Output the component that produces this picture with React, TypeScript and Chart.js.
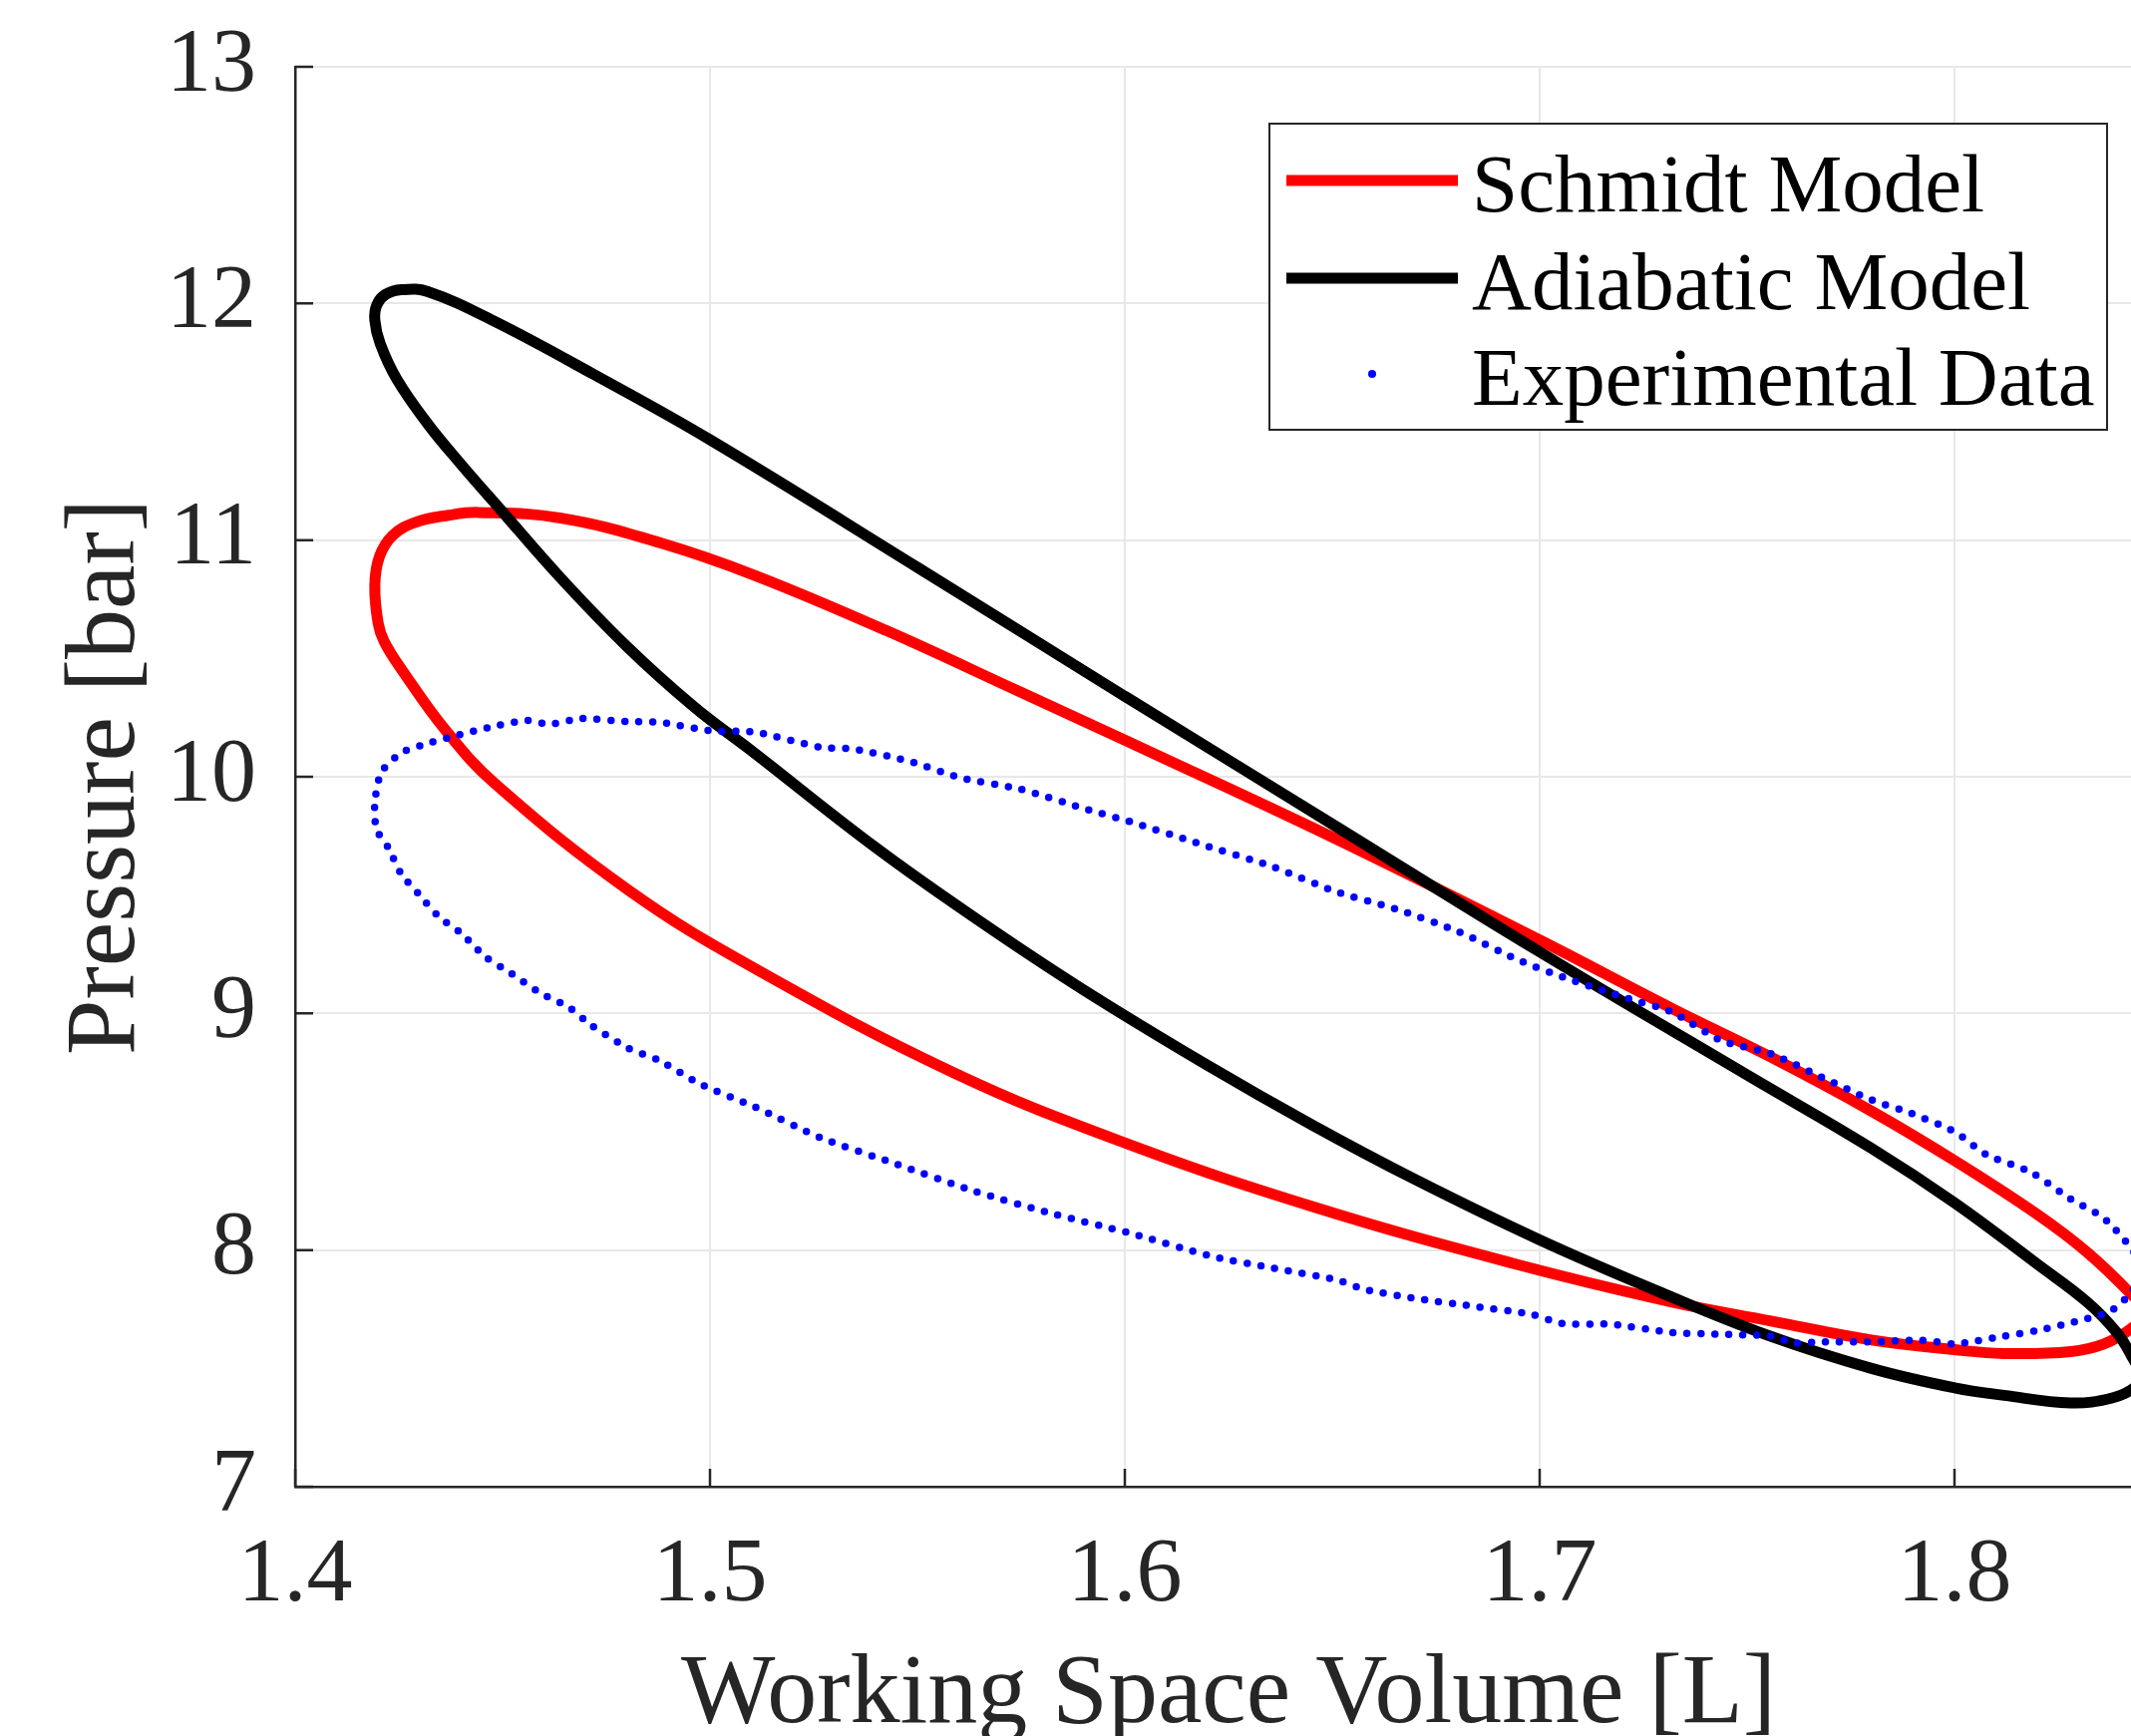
import React, { useEffect, useRef } from "react";
import { Chart, registerables } from "chart.js";

Chart.register(...registerables);

// ---- Data ----
const xTicks = [1.4, 1.5, 1.6, 1.7, 1.8];
const yTicks = [7, 8, 9, 10, 11, 12, 13];

const legendLabels = ["Schmidt Model", "Adiabatic Model", "Experimental Data"];

// Schmidt model loop: volume [L]
const schmidtV = [
  1.6, 1.65, 1.7, 1.732, 1.756, 1.78, 1.8, 1.82, 1.832, 1.8426, 1.846,
  1.8426, 1.836, 1.828, 1.812, 1.8, 1.78, 1.7558, 1.7317, 1.6933, 1.6452, 1.6003, 1.5587, 1.5108, 1.4801,
  1.4481, 1.4361, 1.4256, 1.4215, 1.42,
  1.4192, 1.4203, 1.4235, 1.429, 1.437, 1.4441, 1.4641, 1.4881, 1.5108, 1.5426, 1.5747, 1.6,
];
// Schmidt model loop: pressure [bar]
const schmidtP = [
  10.155, 9.745, 9.31, 9.02, 8.813, 8.587, 8.378, 8.15, 7.99, 7.813, 7.735,
  7.668, 7.603, 7.571, 7.563, 7.579, 7.62, 7.7, 7.781, 7.945, 8.184, 8.451, 8.75, 9.19, 9.524,
  9.972, 10.2, 10.455, 10.57, 10.649,
  10.81, 10.93, 11.02, 11.075, 11.105, 11.117, 11.093, 10.988, 10.851, 10.617, 10.359, 10.155,
];

// Adiabatic model loop
const adiabaticV = [
  1.6, 1.65, 1.7, 1.75, 1.78, 1.8, 1.82, 1.832, 1.8391, 1.8426, 1.8448,
  1.8435, 1.838, 1.828, 1.812, 1.8, 1.78, 1.755, 1.73, 1.7, 1.67, 1.645, 1.62, 1.59, 1.565, 1.54, 1.51,
  1.4962, 1.48, 1.464, 1.4497, 1.44, 1.432, 1.4245, 1.4205,
  1.4192, 1.4197, 1.4218, 1.4256, 1.432, 1.448, 1.472, 1.5, 1.55, 1.6,
];
const adiabaticP = [
  10.34, 9.8, 9.26, 8.74, 8.43, 8.2, 7.94, 7.78, 7.652, 7.555, 7.47,
  7.42, 7.375, 7.354, 7.386, 7.418, 7.5, 7.64, 7.815, 8.043, 8.298, 8.53, 8.78, 9.1, 9.39, 9.7, 10.11,
  10.295, 10.55, 10.84, 11.125, 11.32, 11.49, 11.68, 11.83,
  11.93, 11.995, 12.038, 12.058, 12.05, 11.925, 11.7, 11.424, 10.885, 10.34,
];

// Experimental data loop
const experimentV = [
  1.6011, 1.6171, 1.6356, 1.6508, 1.6652, 1.6805, 1.6949, 1.7085, 1.7213, 1.7317, 1.7437, 1.7558, 1.7678, 1.7798,
  1.7894, 1.8001, 1.8078, 1.8183, 1.8279, 1.8359, 1.8426, 1.8455,
  1.8426, 1.8375, 1.8279, 1.8199, 1.8118, 1.8038, 1.8001, 1.7918, 1.7798, 1.7678, 1.7614, 1.7558, 1.7437, 1.7317,
  1.7173, 1.7053, 1.6981, 1.6837, 1.6692, 1.658, 1.6508, 1.6356, 1.6212, 1.6011, 1.5827, 1.5635, 1.545, 1.5266,
  1.5108, 1.4977, 1.4881, 1.4801, 1.4713, 1.4661, 1.4589, 1.4521, 1.4457, 1.4401, 1.4345, 1.4296, 1.4256, 1.4224, 1.4196,
  1.4192, 1.4208, 1.4256, 1.4305, 1.4369, 1.4481, 1.4561, 1.4613, 1.4689, 1.4801, 1.4881, 1.5002, 1.5108, 1.5266,
  1.5346, 1.549, 1.5603, 1.5747, 1.5899, 1.6011,
];
const experimentP = [
  9.811, 9.722, 9.62, 9.515, 9.442, 9.345, 9.225, 9.136, 9.063, 9.007, 8.886, 8.829, 8.732, 8.636,
  8.579, 8.499, 8.402, 8.33, 8.217, 8.136, 8.007, 7.91,
  7.821, 7.741, 7.692, 7.66, 7.636, 7.612, 7.603, 7.619, 7.612, 7.612, 7.607, 7.636, 7.644, 7.652,
  7.686, 7.69, 7.728, 7.763, 7.798, 7.833, 7.875, 7.924, 7.973, 8.072, 8.153, 8.25, 8.363, 8.475,
  8.605, 8.701, 8.798, 8.855, 8.951, 9.024, 9.088, 9.169, 9.241, 9.338, 9.411, 9.508, 9.588, 9.701, 9.778,
  9.891, 10.02, 10.101, 10.133, 10.165, 10.214, 10.238, 10.222, 10.246, 10.233, 10.23, 10.194, 10.189, 10.125,
  10.117, 10.061, 9.996, 9.948, 9.867, 9.811,
];

const FONT = '"Liberation Serif", "Times New Roman", Times, serif';
const AXIS_COLOR = "#262626";
const GRID_COLOR = "#e8e8e8";

const toPoints = (v: number[], p: number[]) => v.map((x, i) => ({ x, y: p[i] }));

const innerTicksPlugin = {
  id: "innerTicks",
  beforeDatasetsDraw(chart: any) {
    const { ctx, chartArea: a, scales } = chart;
    ctx.save();
    ctx.strokeStyle = AXIS_COLOR;
    ctx.lineWidth = 2.5;
    ctx.beginPath();
    xTicks.forEach((v) => {
      const x = scales.x.getPixelForValue(v);
      ctx.moveTo(x, a.bottom);
      ctx.lineTo(x, a.bottom - 18);
    });
    yTicks.forEach((v) => {
      const y = scales.y.getPixelForValue(v);
      ctx.moveTo(a.left, y);
      ctx.lineTo(a.left + 18, y);
    });
    ctx.stroke();
    ctx.restore();
  },
};

const boxLegendPlugin = {
  id: "boxLegend",
  afterDraw(chart: any) {
    const ctx = chart.ctx;
    const left = 1273, top = 124, w = 840, h = 307;
    ctx.save();
    ctx.fillStyle = "#ffffff";
    ctx.fillRect(left, top, w, h);
    ctx.strokeStyle = AXIS_COLOR;
    ctx.lineWidth = 2;
    ctx.strokeRect(left, top, w, h);
    const rows = [181, 279, 375];
    ctx.lineCap = "butt";
    ctx.strokeStyle = "#ff0000";
    ctx.lineWidth = 11;
    ctx.beginPath();
    ctx.moveTo(1290, rows[0]);
    ctx.lineTo(1462, rows[0]);
    ctx.stroke();
    ctx.strokeStyle = "#000000";
    ctx.beginPath();
    ctx.moveTo(1290, rows[1]);
    ctx.lineTo(1462, rows[1]);
    ctx.stroke();
    ctx.fillStyle = "#0000ff";
    ctx.beginPath();
    ctx.arc(1376, rows[2], 4, 0, Math.PI * 2);
    ctx.fill();
    ctx.fillStyle = "#000000";
    ctx.font = `83px ${FONT}`;
    ctx.textAlign = "left";
    ctx.textBaseline = "middle";
    legendLabels.forEach((t, i) => ctx.fillText(t, 1476, rows[i] + 9));
    ctx.restore();
  },
};

export default function App() {
  const ref = useRef<HTMLCanvasElement>(null);
  useEffect(() => {
    document.body.style.margin = "0";
    document.body.style.overflow = "hidden";
    const chart = new Chart(ref.current as HTMLCanvasElement, {
      type: "scatter",
      data: {
        datasets: [
          {
            label: legendLabels[0],
            data: toPoints(schmidtV, schmidtP),
            showLine: true,
            borderColor: "#ff0000",
            backgroundColor: "#ff0000",
            borderWidth: 11,
            pointRadius: 0,
            tension: 0.4,
            borderJoinStyle: "round",
            borderCapStyle: "round",
            order: 3,
          },
          {
            label: legendLabels[1],
            data: toPoints(adiabaticV, adiabaticP),
            showLine: true,
            borderColor: "#000000",
            backgroundColor: "#000000",
            borderWidth: 11,
            pointRadius: 0,
            tension: 0.4,
            borderJoinStyle: "round",
            borderCapStyle: "round",
            order: 2,
          },
          {
            label: legendLabels[2],
            data: toPoints(experimentV, experimentP),
            showLine: true,
            borderColor: "#0000ff",
            backgroundColor: "#0000ff",
            borderWidth: 7.5,
            borderDash: [0, 14],
            borderCapStyle: "round",
            pointRadius: 0,
            tension: 0.25,
            order: 1,
          },
        ],
      } as any,
      options: {
        responsive: false,
        animation: false,
        devicePixelRatio: 1,
        layout: { padding: { top: 67, right: 0, left: 0, bottom: 0 } },
        plugins: {
          legend: { display: false },
          tooltip: { enabled: false },
        },
        scales: {
          x: {
            type: "linear",
            min: 1.4,
            max: 1.85,
            afterBuildTicks: (s: any) => {
              s.ticks = xTicks.map((value) => ({ value }));
            },
            afterFit: (s: any) => {
              s.height = 250;
              s.paddingLeft = 0;
              s.paddingRight = 0;
            },
            ticks: {
              autoSkip: false,
              maxRotation: 0,
              padding: 44,
              color: AXIS_COLOR,
              font: { family: FONT, size: 92, lineHeight: 1 },
              callback: (v: any) => Number(v).toFixed(1),
            },
            grid: { color: GRID_COLOR, lineWidth: 2, drawTicks: false },
            border: { display: true, color: AXIS_COLOR, width: 2.5 },
            title: {
              display: true,
              text: "Working Space Volume [L]",
              color: AXIS_COLOR,
              font: { family: FONT, size: 100, lineHeight: 1 },
              padding: { top: 0, bottom: -10 },
            },
          },
          y: {
            type: "linear",
            min: 7,
            max: 13,
            afterBuildTicks: (s: any) => {
              s.ticks = yTicks.map((value) => ({ value }));
            },
            afterFit: (s: any) => {
              s.width = 296;
              s.paddingTop = 0;
              s.paddingBottom = 0;
            },
            ticks: {
              padding: 39,
              color: AXIS_COLOR,
              font: { family: FONT, size: 90, lineHeight: 1 },
              callback: (v: any) => String(v),
            },
            grid: { color: GRID_COLOR, lineWidth: 2, drawTicks: false },
            border: { display: true, color: AXIS_COLOR, width: 2.5 },
            title: {
              display: true,
              text: "Pressure [bar]",
              color: AXIS_COLOR,
              font: { family: FONT, size: 100, lineHeight: 1 },
              padding: { top: 58, bottom: 0 },
            },
          },
        },
      } as any,
      plugins: [innerTicksPlugin, boxLegendPlugin],
    });
    return () => chart.destroy();
  }, []);
  return (
    <canvas
      ref={ref}
      width={2168}
      height={1741}
      style={{ display: "block", width: "2168px", height: "1741px" }}
    />
  );
}
